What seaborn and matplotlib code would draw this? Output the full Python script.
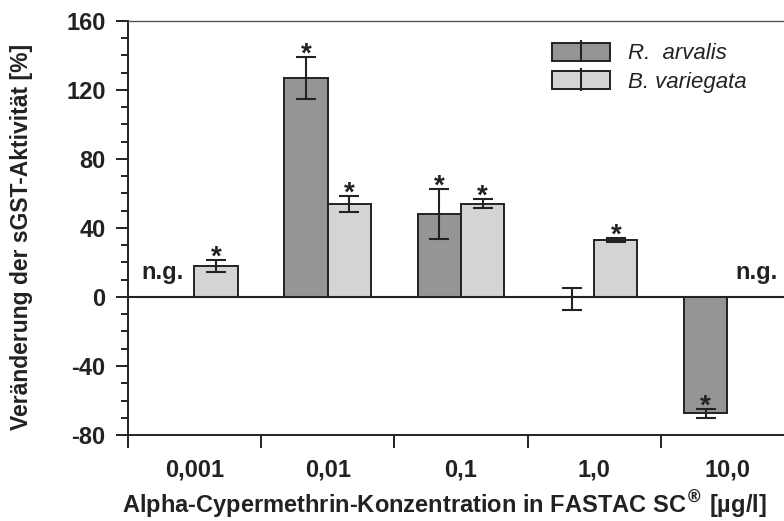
import numpy as np
import pandas as pd
import matplotlib
matplotlib.use("Agg")
import matplotlib.pyplot as plt
from matplotlib.ticker import MultipleLocator, FixedLocator
from matplotlib.patches import Patch
from matplotlib.container import ErrorbarContainer
from matplotlib.legend_handler import HandlerErrorbar
import seaborn as sns

# Daten
categories = ["0,001", "0,01", "0,1", "1,0", "10,0"]
species = ["R. arvalis", "B. variegata"]
r_arvalis = [np.nan, 127, 48, -1, -67.5]
r_arvalis_err = [np.nan, 12, 14.5, 6.3, 2.5]
r_arvalis_sig = [False, True, True, False, True]
b_variegata = [18, 54, 54, 33, np.nan]
b_variegata_err = [3.5, 4.5, 2.5, 1.2, np.nan]
b_variegata_sig = [True, True, True, True, False]
not_measured = [("R. arvalis", 0), ("B. variegata", 4)]

colors = {"R. arvalis": "#959595", "B. variegata": "#d4d4d4"}
edge = "#222222"

sns.set_theme(style="ticks")
plt.rcParams["font.family"] = ["Liberation Sans", "DejaVu Sans"]
plt.rcParams["font.weight"] = "bold"
plt.rcParams["axes.unicode_minus"] = False

rows = []
for i, c in enumerate(categories):
    rows.append({"conc": c, "species": species[0], "value": r_arvalis[i]})
    rows.append({"conc": c, "species": species[1], "value": b_variegata[i]})
df = pd.DataFrame(rows)

fig = plt.figure(figsize=(7.84, 5.21), dpi=100)
ax = fig.add_axes([0.163, 0.165, 0.837, 0.795])

sns.barplot(data=df, x="conc", y="value", hue="species", order=categories,
            hue_order=species, palette=colors, width=0.65, errorbar=None,
            edgecolor=edge, linewidth=1.4, saturation=1, legend=False, ax=ax)

errs = {species[0]: (r_arvalis, r_arvalis_err, r_arvalis_sig),
        species[1]: (b_variegata, b_variegata_err, b_variegata_sig)}

for sp, cont in zip(species, ax.containers):
    vals, err, sig = errs[sp]
    for bar in cont:
        xc = bar.get_x() + bar.get_width() / 2
        i = int(round(xc))
        if np.isnan(vals[i]):
            continue
        # winzige Balken verschwinden in der Nulllinie
        if abs(bar.get_height()) < 2:
            bar.set_visible(False)
        ax.errorbar(xc, vals[i], yerr=err[i], fmt="none", ecolor=edge,
                    elinewidth=1.5, capsize=7, capthick=1.5, zorder=4)
        if sig[i]:
            ax.annotate("*", (xc, vals[i] + err[i]), xytext=(0, -7.5),
                        textcoords="offset points", ha="center", va="bottom",
                        fontsize=20, fontweight="bold", color=edge)

for sp, i in not_measured:
    off = -0.24 if sp == species[0] else 0.22
    ax.annotate("n.g.", (i + off, 0), xytext=(0, 9), textcoords="offset points",
                ha="center", va="bottom", fontsize=17, fontweight="bold", color=edge)

ax.axhline(0, color=edge, lw=1.5, zorder=3)

ax.set_ylim(-80, 160)
ax.set_xlim(-0.5, 4.425)
ax.yaxis.set_major_locator(MultipleLocator(40))
ax.yaxis.set_minor_locator(MultipleLocator(10))
ax.tick_params(axis="y", which="major", length=9, width=1.4, color=edge,
               labelsize=17, pad=7, labelcolor=edge)
ax.tick_params(axis="y", which="minor", length=5, width=1.4, color=edge)
ax.set_xticks(range(len(categories)))
ax.set_xticklabels(categories)
ax.xaxis.set_minor_locator(FixedLocator(np.arange(-0.5, 4.0, 1.0)))
ax.tick_params(axis="x", which="major", length=0, labelsize=17, pad=17,
               labelcolor=edge)
ax.tick_params(axis="x", which="minor", length=9, width=1.4, color=edge)
for lab in ax.get_xticklabels() + ax.get_yticklabels():
    lab.set_fontweight("bold")

ax.spines["right"].set_visible(False)
ax.spines["top"].set_linewidth(1.0)
ax.spines["top"].set_color("#555555")
for s in ["left", "bottom"]:
    ax.spines[s].set_linewidth(1.4)
    ax.spines[s].set_color(edge)

ax.set_xlabel("Alpha-Cypermethrin-Konzentration in FASTAC SC$^{®}$ [µg/l]",
              fontsize=17, fontweight="bold", color=edge)
ax.xaxis.set_label_coords(0.483, -0.13)
ax.set_ylabel("Veränderung der sGST-Aktivität [%]", fontsize=16.5,
              fontweight="bold", color=edge)
ax.yaxis.set_label_coords(-0.145, 0.478)

# Legende mit Balken + Fehlerbalken
handles = []
for sp in species:
    p = Patch(facecolor=colors[sp], edgecolor=edge, linewidth=1.4)
    eb = ax.errorbar([], [], yerr=[], fmt="none", ecolor=edge, elinewidth=1.5,
                     capsize=7, capthick=1.5)
    handles.append((p, eb))
ax.legend(handles, ["R.  arvalis", "B. variegata"], loc="upper right",
          bbox_to_anchor=(0.973, 0.995), frameon=False,
          prop={"style": "italic", "weight": "normal", "size": 16},
          handlelength=2.6, handleheight=0.85, labelspacing=0.3,
          handletextpad=0.8, labelcolor=edge,
          handler_map={ErrorbarContainer: HandlerErrorbar(yerr_size=0.5)})

fig.savefig("out.png", dpi=100)
